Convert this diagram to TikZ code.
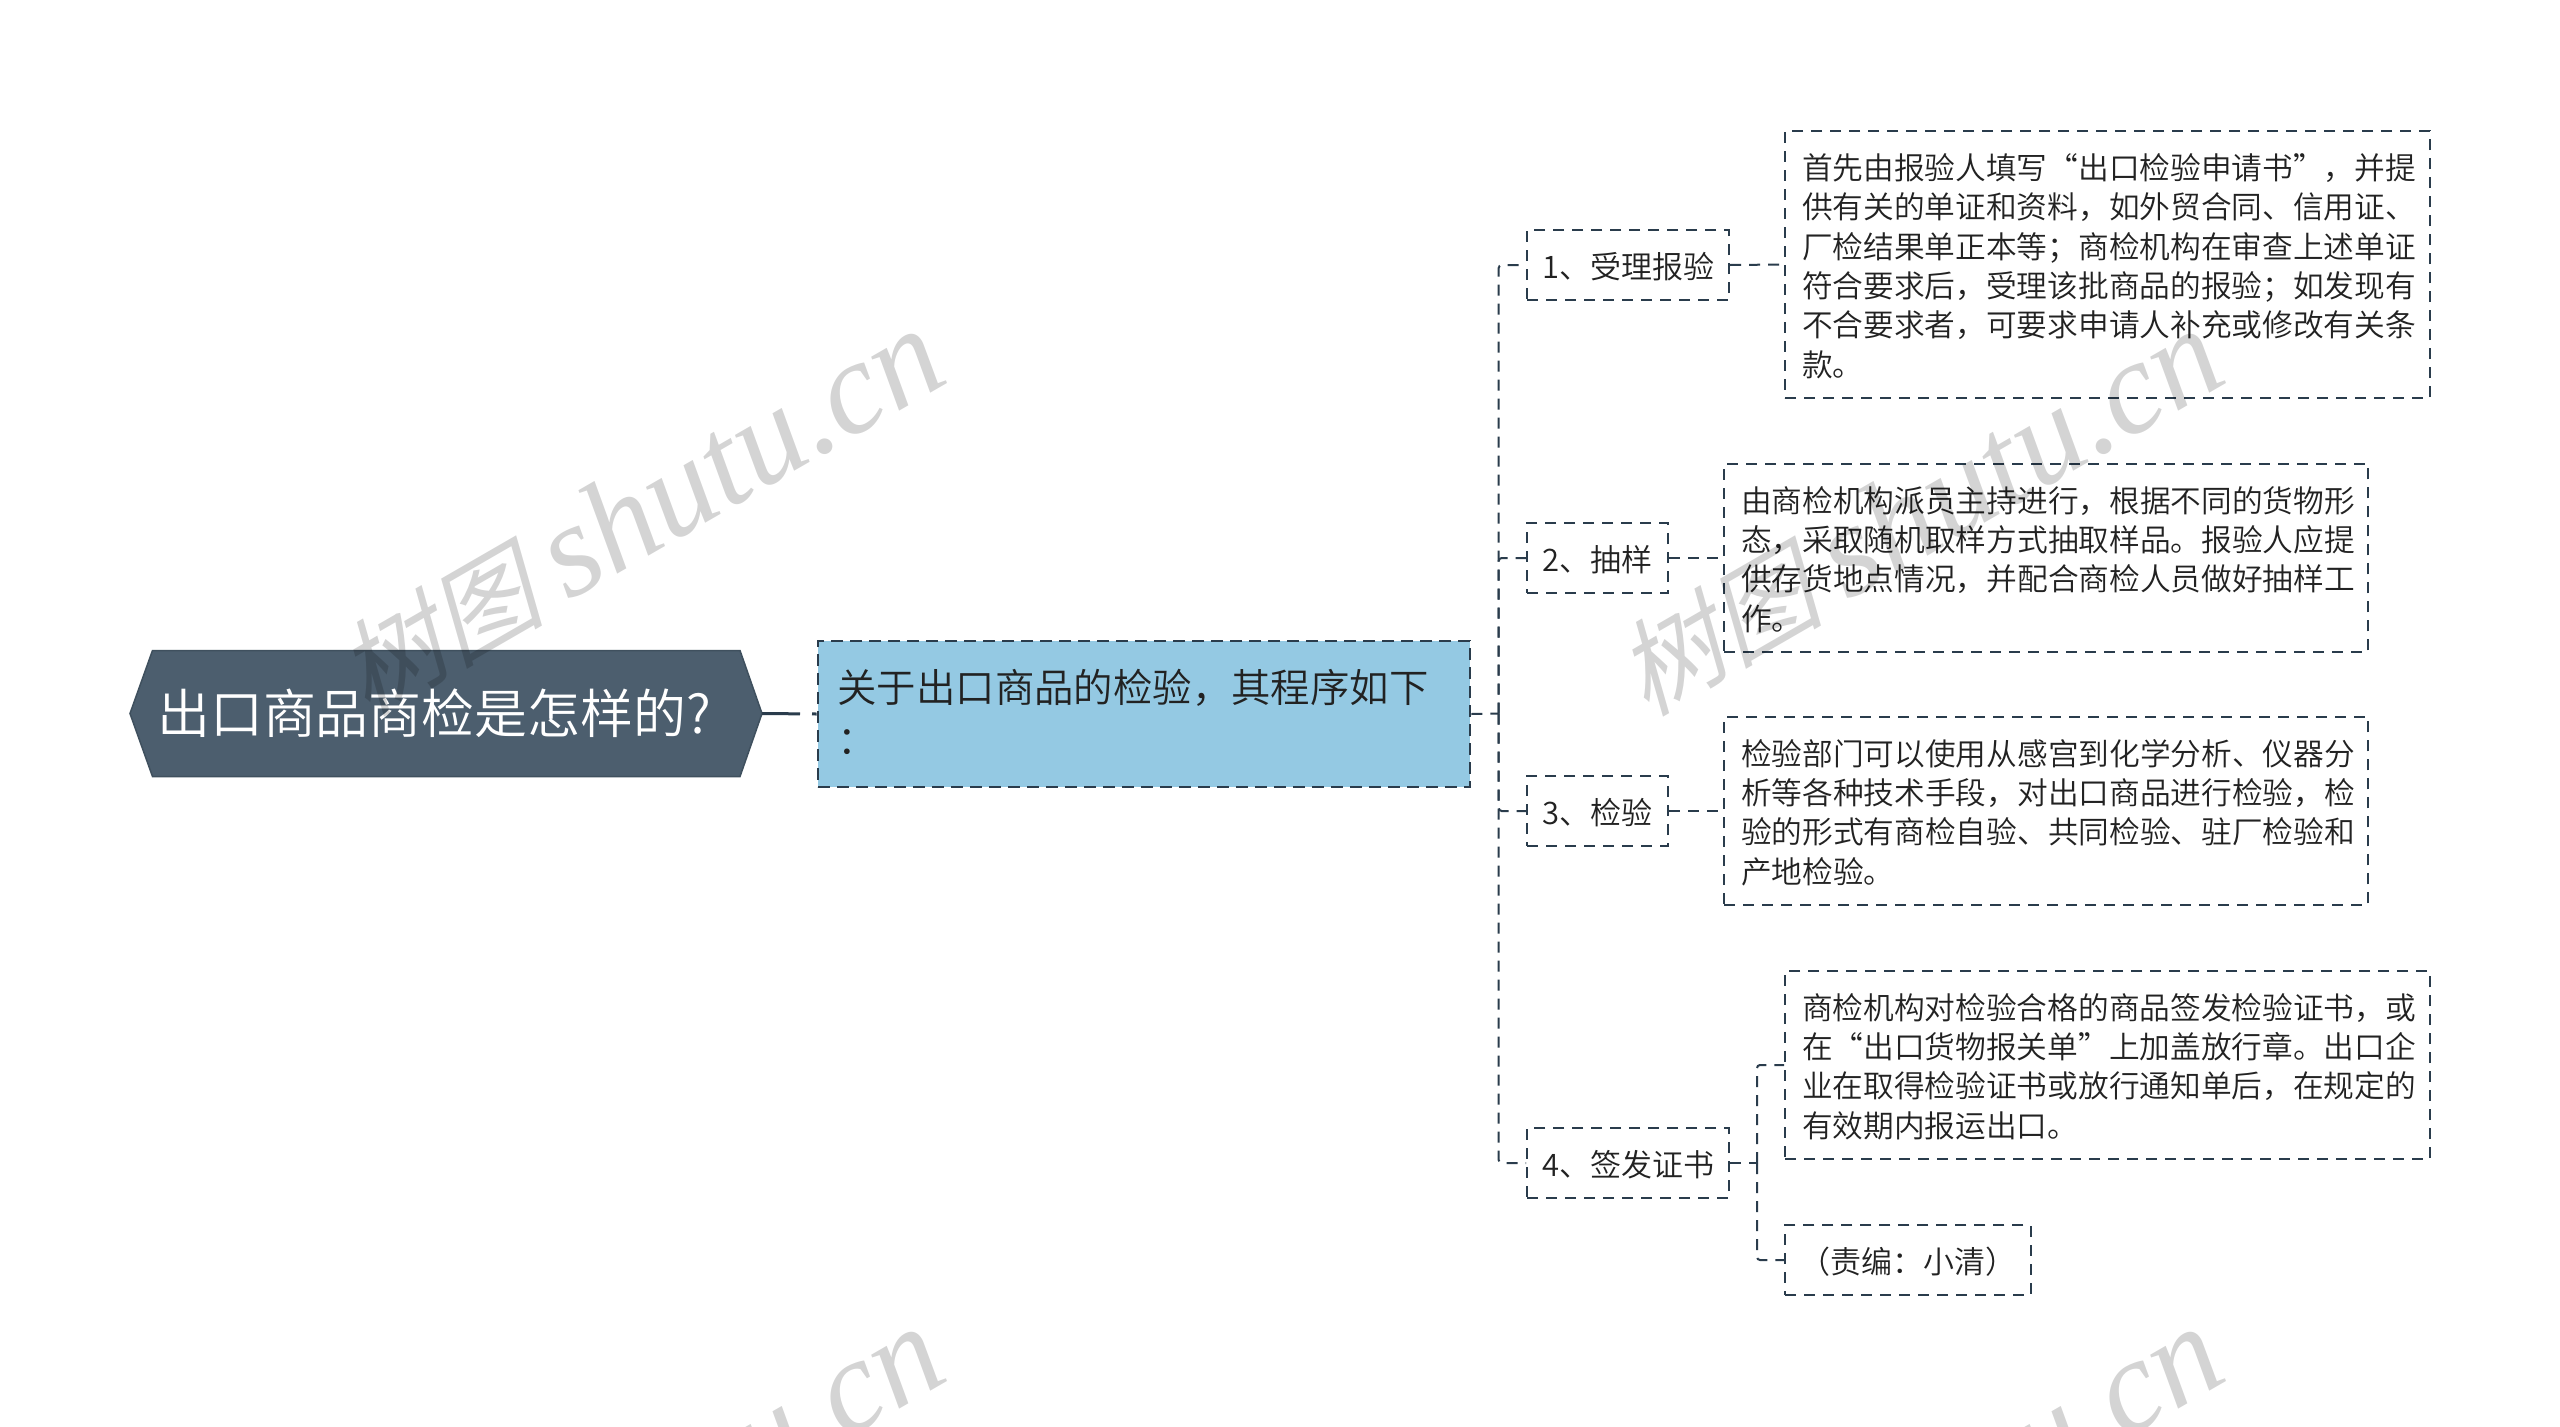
\documentclass[tikz,border=0pt]{standalone}
\usepackage{fontspec}
\setmainfont[UprightFont={* DemiLight}]{Noto Sans CJK SC}
\newfontfamily\wmcjk[FakeSlant=0.25]{Noto Sans CJK SC}
\newfontfamily\wmlat{Liberation Serif}[ItalicFont={* Italic}]
\usetikzlibrary{calc}
\definecolor{slate}{HTML}{2A3C4C}
\definecolor{rootfill}{HTML}{4C5E6E}
\definecolor{mainfill}{HTML}{94C9E3}
\definecolor{ink}{HTML}{222222}
\tikzset{
  x=1pt,y=-1pt,
  conn/.style={draw=slate,line width=2pt,dash pattern=on 11pt off 8pt},
  boxed/.style={draw=slate,line width=2pt,dash pattern=on 11pt off 8pt,text=ink,inner sep=0pt,
    font=\fontsize{30.7}{39.3}\selectfont},
  leaf/.style={boxed,align=left,inner xsep=17pt,inner ysep=0pt,text width=#1,
    execute at end node=\vspace*{-3pt}},
  mark box/.style={boxed,font=\fontsize{31}{39.3}\selectfont,text height=29pt,text depth=2.7pt},
  mainbox/.style={draw=slate,line width=2.6pt,dash pattern=on 12pt off 7pt,fill=mainfill,text=ink,align=left,
    inner xsep=19.5pt,inner ysep=0pt,text width=613pt,minimum height=146pt,
    font=\fontsize{39.4}{52}\selectfont,execute at end node=\vspace*{5pt}},
  rootshape/.style={fill=rootfill,draw=slate!90,line width=1.5pt},
  roottext/.style={text=white,inner sep=0pt,font=\fontsize{52.9}{60}\selectfont},
  wm/.style={text=black,text opacity=0.17,inner sep=0pt,anchor=base east,rotate=30},
}
\newcommand{\wmtext}{{\fontsize{104}{130}\selectfont\wmcjk 树图}\hspace{24pt}{\fontsize{132}{130}\selectfont\wmlat\itshape shutu.cn}}
\begin{document}
\begin{tikzpicture}
\useasboundingbox (0,0) rectangle (2560,1427);
\clip (0,0) rectangle (2560,1427);
\fill[white] (0,0) rectangle (2560,1427);

% root
\coordinate (rL) at (130,713.5);
\coordinate (rR) at (762,713.5);
\draw[rootshape] (152.5,650.5) -- (740,650.5) -- (rR) -- (740,776.5) -- (152.5,776.5) -- (rL) -- cycle;
\node[roottext,anchor=west] (root) at (157,713) {出口商品商检是怎样的?};

% main
\node[mainbox] (main) at (1144,714) {关于出口商品的检验，其程序如下\\：};

% first level
\node[mark box,minimum width=202pt,minimum height=70pt] (n1) at (1628,265) {1、受理报验};
\node[mark box,minimum width=141pt,minimum height=70pt] (n2) at (1597.5,558) {2、抽样};
\node[mark box,minimum width=141pt,minimum height=70pt] (n3) at (1597.5,811) {3、检验};
\node[mark box,minimum width=202pt,minimum height=70pt] (n4) at (1628,1163) {4、签发证书};

% details
\node[leaf=611pt,minimum height=267pt] (d1) at (2107.5,264.5) {首先由报验人填写“出口检验申请书”，并提\\供有关的单证和资料，如外贸合同、信用证、\\厂检结果单正本等；商检机构在审查上述单证\\符合要求后，受理该批商品的报验；如发现有\\不合要求者，可要求申请人补充或修改有关条\\款。};
\node[leaf=610pt,minimum height=188.5pt] (d2) at (2046,558) {由商检机构派员主持进行，根据不同的货物形\\态，采取随机取样方式抽取样品。报验人应提\\供存货地点情况，并配合商检人员做好抽样工\\作。};
\node[leaf=610pt,minimum height=188.5pt] (d3) at (2046,811) {检验部门可以使用从感宫到化学分析、仪器分\\析等各种技术手段，对出口商品进行检验，检\\验的形式有商检自验、共同检验、驻厂检验和\\产地检验。};
\node[leaf=611pt,minimum height=188pt] (d4) at (2107.5,1065) {商检机构对检验合格的商品签发检验证书，或\\在“出口货物报关单”上加盖放行章。出口企\\业在取得检验证书或放行通知单后，在规定的\\有效期内报运出口。};
\node[mark box,minimum width=245.5pt,minimum height=70pt] (d5) at (1908,1260) {（责编：小清）};

% connectors
\coordinate (tr) at (1498.7,713.5);
\coordinate (sub) at (1757,1163);
\draw[draw=slate,line width=3pt,dash pattern=on 38pt off 12pt] (rR) -- (main.west);
\draw[conn] (main.east) -- (tr);
\foreach \n in {n1,n2,n3,n4} \draw[conn,rounded corners=3pt] (tr) |- (\n.west);
\draw[conn] (n1.east) -- (d1.west);
\draw[conn] (n2.east) -- (d2.west);
\draw[conn] (n3.east) -- (d3.west);
\draw[conn] (n4.east) -- (sub);
\draw[conn,rounded corners=3pt] (sub) |- (d4.west);
\draw[conn,rounded corners=3pt] (sub) |- (d5.west);

% watermarks
\node[wm] (w1) at (953,380) {\wmtext};
\node[wm] (w2) at (2232,380) {\wmtext};
\node[wm] (w3) at (953,1378) {\wmtext};
\node[wm] (w4) at (2232,1378) {\wmtext};
\end{tikzpicture}
\end{document}
